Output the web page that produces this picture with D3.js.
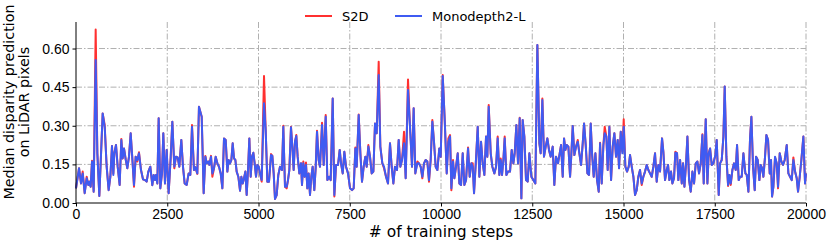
<!DOCTYPE html>
<html>
<head>
<meta charset="utf-8">
<script src="https://cdn.jsdelivr.net/npm/d3@7"></script>
<style>
  body { margin: 0; background: #fff; }
  svg { display: block; font-family: "DejaVu Sans", sans-serif; }
  .grid line { stroke: #b0b0b0; stroke-width: 1; stroke-dasharray: 6,2,1.5,2; }
  .axis path, .axis line { stroke: #000; stroke-width: 1; }
  .axis text { font-size: 14px; fill: #000; }
</style>
</head>
<body>
<script>
const width = 831;
const height = 243;
const margin = {top: 22, right: 25, bottom: 40, left: 76};

// training step of each sample
const steps = [
  0,83,137,183,238,293,338,366,402,439,484,539,585,639,731,786,840,895,941,986,1023,1050,1096,1142,
  1196,1242,1279,1315,1361,1406,1452,1498,1552,1589,1635,1680,1726,1781,1835,1890,1936,1982,2036,2091,
  2128,2164,2192,2228,2265,2310,2356,2392,2438,2484,2538,2593,2639,2694,2739,2785,2831,2885,2931,2977,
  3032,3086,3132,3178,3232,3269,3324,3369,
  3444,3498,3544,3581,3626,3654,3699,3736,3781,3827,3873,3918,3964,4010,4055,4101,4147,4183,4220,4256,
  4293,4329,4366,4402,4448,4494,4530,4567,4603,4640,4676,4713,4749,4786,4822,4859,4895,4932,4968,5005,
  5041,5087,5151,5197,5242,5288,5343,5379,5416,5452,5498,5543,5589,5644,5680,5726,5772,5808,5845,5890,
  5927,5963,6000,6036,6073,6119,6164,6192,6228,6265,6301,6338,6374,6411,6447,6484,6529,6566,6603,6648,6685,
  6741,6786,6841,6887,6932,6978,7033,7078,7124,7179,7225,7261,7307,7352,7398,7453,7508,7562,7608,7654,
  7690,7745,7791,7836,7882,7928,7964,8010,8055,8101,8147,8192,8238,8293,8338,8393,8439,8494,8548,8603,
  8649,8695,8740,8795,8841,8886,8932,8987,9032,9096,9151,9206,9251,9297,9352,9398,9443,9489,9534,9580,
  9626,9671,9717,9763,9808,9854,9900,9954,
  9992,10047,10102,10157,10202,10248,10284,10330,10366,10412,10458,10503,10549,10595,10640,10686,10741,10786,
  10832,10869,10905,10960,11006,11051,11097,11143,11188,11234,11270,11307,11362,11407,11462,11508,11553,11599,
  11636,11672,11709,11745,11791,11836,11891,11937,11983,12019,12065,12110,12156,12202,12238,12284,12329,12375,
  12421,12476,12530,12585,12640,12695,12731,12777,12822,12868,12914,12959,13005,13060,13105,13151,13206,13252,
  13289,13335,13371,13408,13445,13490,13536,13563,13609,13654,13700,13746,13791,13837,13883,13919,13965,14011,
  14056,14102,14138,14184,14230,14275,14321,14358,14403,14449,14485,14531,14567,14613,14659,14704,14750,14796,
  14841,14878,14924,14969,15006,15051,15097,15143,15179,15225,15271,15316,15362,15407,15453,15499,15544,15590,
  15636,15681,15727,15773,15818,15864,15910,15955,16001,16056,16092,16138,16184,16220,16257,16302,16339,16384,
  16421,16467,16503,
  16550,16596,16632,16669,16714,16751,16797,16842,16888,16933,16979,17025,17070,17116,17162,17198,17253,17299,
  17335,17372,17417,17463,17518,17554,17609,17646,17691,17737,17773,17819,17865,17901,17938,17983,18029,18075,
  18111,18157,18193,18239,18285,18339,18376,18422,18467,18504,18549,18595,18632,18677,18723,18759,18796,18833,
  18878,18915,18960,19006,19042,19070,19106,19152,19198,19234,19280,19326,19371,19417,19472,19517,19563,19609,
  19654,19700,19746,19782,19828,19873,19928,19974,20000
];

const s2d = [
  .057,.135,.076,.122,.038,.102,.070,.083,.063,.164,.044,.674,.193,.027,.348,.303,.141,.050,.102,.221,
  .115,.193,.225,.141,.070,.249,.173,.212,.170,.135,.180,.271,.154,.063,.180,.161,.197,.128,.092,.089,
  .083,.122,.141,.069,.109,.089,.109,.076,.329,.057,.115,.271,.076,.206,.038,.173,.316,.135,.180,.177,
  .141,.245,.141,.076,.070,.115,.109,.303,.128,.139,.113,.374,
  .335,.038,.183,.154,.161,.148,.183,.102,.135,.180,.154,.141,.115,.057,.251,.245,.122,.167,.154,.167,
  .232,.173,.167,.122,.102,.048,.102,.076,.096,.122,.031,.128,.251,.102,.180,.195,.154,.102,.148,.141,
  .115,.083,.493,.283,.083,.083,.190,.183,.115,.016,.031,.109,.141,.128,.300,.063,.057,.089,.128,.296,
  .219,.128,.238,.264,.180,.115,.154,.070,.161,.102,.157,.057,.115,.031,.102,.141,.050,.135,.281,.167,.141,
  .312,.148,.342,.089,.102,.089,.406,.025,.148,.148,.206,.154,.115,.199,.141,.115,.057,.050,.057,.216,
  .141,.344,.193,.083,.141,.180,.141,.225,.180,.115,.122,.309,.271,.549,.219,.154,.135,.102,.076,.232,
  .141,.076,.141,.128,.245,.141,.167,.277,.096,.480,.296,.141,.368,.115,.161,.154,.141,.096,.154,.167,
  .161,.083,.167,.322,.238,.141,.128,.212,
  .180,.497,.322,.115,.251,.264,.050,.167,.096,.141,.193,.076,.070,.193,.070,.089,.216,.102,.154,.154,
  .038,.173,.296,.102,.238,.154,.109,.258,.180,.381,.193,.141,.115,.141,.258,.109,.173,.109,.167,.258,
  .109,.122,.122,.206,.154,.193,.303,.154,.331,.018,.322,.258,.089,.083,.193,.102,.089,.076,.614,.232,
  .193,.406,.180,.219,.251,.206,.180,.219,.070,.180,.154,.193,
  .225,.102,.251,.206,.225,.219,.102,.167,.299,.186,.219,.245,.193,.148,.232,.309,.225,.115,.109,.309,
  .193,.102,.193,.089,.044,.234,.076,.225,.296,.258,.128,.296,.089,.219,.271,.180,.245,.135,.277,.199,
  .325,.141,.122,.141,.186,.141,.102,.031,.050,.102,.128,.070,.102,.122,.148,.128,.115,.102,.141,.193,
  .083,.148,.122,.251,.199,.089,.128,.148,.089,.122,.076,.096,.199,.193,.089,
  .167,.076,.154,.063,.154,.258,.089,.044,.122,.076,.154,.161,.115,.154,.267,.076,.325,.076,.193,.212,
  .148,.154,.186,.245,.031,.154,.167,.258,.452,.180,.066,.109,.070,.128,.154,.128,.225,.089,.102,.102,
  .193,.115,.109,.044,.251,.335,.141,.050,.180,.167,.089,.148,.135,.102,.180,.264,.245,.115,.167,.025,
  .063,.177,.154,.057,.193,.161,.148,.167,.225,.115,.102,.089,.177,.122,.096,.044,.102,.167,.258,.076,.115
];

const mono = [
  .057,.135,.076,.115,.038,.096,.070,.083,.063,.161,.044,.555,.193,.027,.348,.296,.141,.050,.102,.221,
  .109,.193,.225,.141,.070,.245,.173,.212,.170,.135,.180,.271,.154,.070,.180,.167,.193,.128,.092,.089,
  .083,.122,.141,.069,.109,.089,.109,.076,.329,.057,.115,.271,.076,.206,.038,.173,.316,.141,.180,.177,
  .141,.245,.141,.076,.070,.115,.109,.296,.128,.139,.115,.374,
  .335,.038,.180,.154,.161,.148,.180,.115,.135,.180,.154,.141,.115,.057,.251,.245,.122,.167,.154,.167,
  .232,.173,.167,.122,.102,.048,.102,.076,.096,.122,.031,.128,.251,.102,.180,.195,.154,.102,.148,.141,
  .115,.089,.387,.283,.083,.083,.186,.183,.115,.016,.031,.109,.141,.128,.296,.063,.063,.089,.128,.294,
  .219,.128,.238,.260,.180,.115,.154,.070,.154,.102,.148,.057,.115,.031,.102,.141,.050,.135,.277,.167,.141,
  .303,.148,.335,.089,.102,.089,.406,.031,.148,.148,.206,.154,.115,.199,.141,.115,.057,.050,.057,.212,
  .141,.342,.193,.083,.141,.180,.141,.219,.180,.115,.122,.309,.271,.497,.219,.154,.141,.102,.076,.232,
  .141,.076,.141,.128,.245,.141,.167,.232,.096,.439,.296,.141,.368,.115,.154,.154,.141,.102,.154,.167,
  .161,.089,.167,.316,.238,.141,.128,.212,
  .180,.493,.322,.115,.238,.258,.057,.161,.096,.141,.193,.076,.070,.193,.070,.089,.212,.102,.154,.141,
  .038,.173,.296,.102,.238,.154,.109,.258,.180,.374,.193,.141,.115,.141,.251,.109,.167,.109,.167,.251,
  .109,.122,.122,.206,.154,.193,.303,.154,.329,.018,.322,.258,.089,.083,.193,.102,.089,.076,.614,.232,
  .193,.400,.180,.219,.251,.206,.180,.219,.070,.180,.154,.193,
  .225,.102,.251,.206,.225,.219,.102,.167,.299,.186,.219,.238,.193,.148,.232,.309,.225,.115,.109,.309,
  .193,.102,.193,.089,.044,.232,.076,.225,.271,.258,.128,.296,.089,.219,.271,.180,.245,.135,.277,.193,
  .296,.141,.122,.141,.186,.141,.102,.031,.050,.102,.128,.076,.102,.122,.148,.128,.115,.102,.141,.193,
  .083,.148,.122,.251,.199,.089,.128,.148,.089,.122,.076,.096,.195,.193,.089,
  .167,.076,.154,.063,.154,.258,.089,.044,.122,.076,.154,.161,.115,.154,.264,.076,.325,.076,.193,.212,
  .148,.154,.186,.245,.031,.154,.167,.258,.452,.180,.070,.109,.076,.128,.154,.128,.225,.089,.102,.102,
  .193,.115,.109,.044,.251,.335,.141,.050,.180,.167,.089,.148,.135,.102,.180,.264,.245,.115,.167,.025,
  .063,.180,.154,.063,.193,.161,.148,.167,.225,.115,.102,.089,.167,.122,.096,.044,.102,.167,.258,.076,.115
];

const xTicks = [0, 2500, 5000, 7500, 10000, 12500, 15000, 17500, 20000];
const yTicks = [0, 0.15, 0.30, 0.45, 0.60];

const series = [
  {name: "S2D", values: s2d, color: "#ff3030"},
  {name: "Monodepth2-L", values: mono, color: "#3f5bf2"}
];

const innerW = width - margin.left - margin.right;
const innerH = height - margin.top - margin.bottom;

const svg = d3.select("body").append("svg")
  .attr("width", width)
  .attr("height", height);

const g = svg.append("g")
  .attr("transform", `translate(${margin.left},${margin.top})`);

const x = d3.scaleLinear().domain([0, 20000]).range([0, innerW]);
const y = d3.scaleLinear().domain([0, 0.703]).range([innerH, 0]);

// dash-dot grid
g.append("g").attr("class", "grid")
  .selectAll("line").data(xTicks.slice(1)).enter().append("line")
  .attr("x1", d => x(d)).attr("x2", d => x(d))
  .attr("y1", 0).attr("y2", innerH);
g.append("g").attr("class", "grid")
  .selectAll("line").data(yTicks.slice(1)).enter().append("line")
  .attr("x1", 0).attr("x2", innerW)
  .attr("y1", d => y(d)).attr("y2", d => y(d));

const line = d3.line()
  .x((d, i) => x(steps[i]))
  .y(d => y(d));

g.selectAll(".series").data(series).enter().append("path")
  .attr("class", "series")
  .attr("fill", "none")
  .attr("stroke", d => d.color)
  .attr("stroke-width", 2)
  .attr("stroke-linejoin", "round")
  .attr("d", d => line(d.values));

// only left + bottom spines
g.append("g").attr("class", "axis")
  .attr("transform", `translate(0,${innerH})`)
  .call(d3.axisBottom(x).tickValues(xTicks).tickFormat(d3.format("d")).tickSize(3.5).tickSizeOuter(0).tickPadding(3))
  .call(a => a.select(".domain").attr("d", `M0,0H${innerW}`));

g.append("g").attr("class", "axis")
  .call(d3.axisLeft(y).tickValues(yTicks).tickFormat(d3.format(".2f")).tickSize(3.5).tickSizeOuter(0).tickPadding(3))
  .call(a => a.select(".domain").attr("d", `M0,${innerH}V0`));

svg.append("text")
  .attr("x", margin.left + innerW / 2)
  .attr("y", 236.5)
  .attr("text-anchor", "middle")
  .style("font-size", "15.5px")
  .text("# of training steps");

const ylab = svg.append("text")
  .attr("transform", `translate(14,102) rotate(-90)`)
  .attr("text-anchor", "middle")
  .style("font-size", "14.3px");
ylab.append("tspan").attr("x", 0).attr("y", 0).text("Median disparity prediction");
ylab.append("tspan").attr("x", 0).attr("y", 15).text("on LiDAR pixels");

// legend, no frame
const legX = [305, 395];
const leg = svg.selectAll(".leg").data(series).enter().append("g")
  .attr("class", "leg")
  .attr("transform", (d, i) => `translate(${legX[i]},16)`);
leg.append("line")
  .attr("x1", 0).attr("x2", 27)
  .attr("stroke", d => d.color).attr("stroke-width", 2);
leg.append("text")
  .attr("x", 37).attr("y", 4.5)
  .style("font-size", "13px")
  .text(d => d.name);
</script>
</body>
</html>
